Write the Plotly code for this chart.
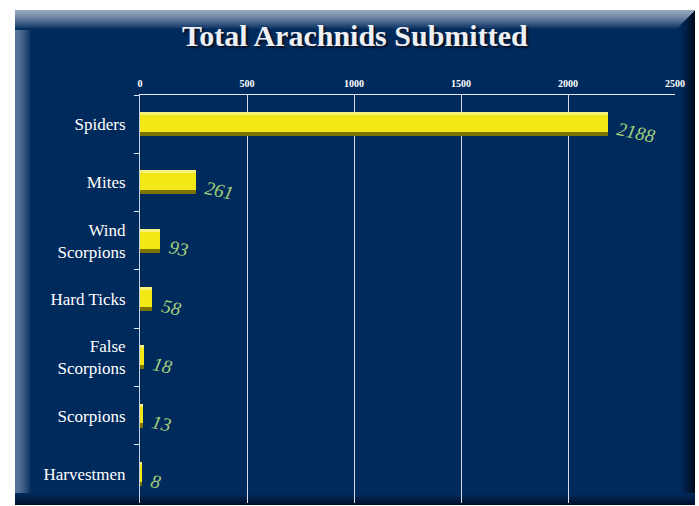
import plotly.graph_objects as go

categories = ["Spiders", "Mites", "Wind<br>Scorpions", "Hard Ticks", "False<br>Scorpions", "Scorpions", "Harvestmen"]
values = [2188, 261, 93, 58, 18, 13, 8]
x_ticks = [0, 500, 1000, 1500, 2000, 2500]
title_text = "Total Arachnids Submitted"

W, H = 699, 506
L, R, T, B = 140, 24, 95, 3
PW, PH = W - L - R, H - T - B


def px(x):
    return (x - L) / PW


def py(y):
    return (H - B - y) / PH


def hexmix(c1, c2, t):
    a = [int(c1[i:i + 2], 16) for i in (1, 3, 5)]
    b = [int(c2[i:i + 2], 16) for i in (1, 3, 5)]
    return "#%02x%02x%02x" % tuple(round(a[k] + (b[k] - a[k]) * t) for k in range(3))


NAVY = "#012a5c"
shapes = []


def rect(x0, y0, x1, y1, color):
    shapes.append(dict(type="rect", xref="paper", yref="paper", x0=px(x0), x1=px(x1),
                       y0=py(y1), y1=py(y0), fillcolor=color, line=dict(width=0), layer="below"))


# main panel
rect(15, 10, 695, 505, NAVY)
# left light band
n = 17
for i in range(n):
    rect(15 + i, 10, 16 + i, 505, hexmix("#587699", NAVY, (i / (n - 1)) ** 1.5))
# top light band
n = 20
for i in range(n):
    rect(15, 10 + i, 695, 11 + i, hexmix("#94a5bd", NAVY, (i / (n - 1)) ** 1.3))
# right dark band
n = 16
for i in range(n):
    rect(679 + i, 10 + max(0, 16 - i), 680 + i, 505, hexmix(NAVY, "#000a1c", (i / (n - 1)) ** 1.2))
# bottom dark band
n = 12
for i in range(n):
    rect(15, 493 + i, 695, 494 + i, hexmix(NAVY, "#00102a", (i / (n - 1))))

fig = go.Figure()
# shadow / bevel body
fig.add_trace(go.Bar(y=categories, x=values, orientation="h", width=0.41,
                     marker=dict(color="#7d7400", line=dict(width=0)), hoverinfo="skip"))
# main yellow face
fig.add_trace(go.Bar(y=categories, x=values, orientation="h", width=0.34, offset=-0.205,
                     marker=dict(color="#f2e816", line=dict(width=0)), hoverinfo="skip"))
# highlight strip
fig.add_trace(go.Bar(y=categories, x=values, orientation="h", width=0.05, offset=-0.205,
                     marker=dict(color="#f8f27a", line=dict(width=0)), hoverinfo="skip"))

annotations = []
for c, v in zip(categories, values):
    annotations.append(dict(x=v, y=c, xref="x", yref="y", text=str(v), showarrow=False,
                            xanchor="left", yanchor="middle", xshift=5, yshift=-8, textangle=12,
                            font=dict(family="Liberation Serif", size=19, color="#a2d07c", style="italic")))

annotations.append(dict(x=px(355), y=py(35), xref="paper", yref="paper", text="<b>" + title_text + "</b>",
                        showarrow=False, xanchor="center", yanchor="middle",
                        font=dict(family="Liberation Serif", size=30, color="#eef0f5",
                                  shadow="2px 2px 2px #0a1020")))

fig.update_layout(
    width=W, height=H,
    margin=dict(l=L, r=R, t=T, b=B),
    paper_bgcolor="white", plot_bgcolor="rgba(0,0,0,0)",
    barmode="overlay", bargap=0, showlegend=False,
    shapes=shapes, annotations=annotations,
    xaxis=dict(side="top", range=[0, 2500], tickvals=x_ticks,
               ticktext=["<b>" + str(t) + "</b>" for t in x_ticks],
               showgrid=True, gridcolor="#d8dde6", gridwidth=1, zeroline=False,
               showline=True, linecolor="#e8ecf2", linewidth=1, ticks="", ticklabelstandoff=3,
               tickfont=dict(family="Liberation Serif", size=10, color="white"), fixedrange=True),
    yaxis=dict(categoryorder="array", categoryarray=categories, autorange="reversed",
               tickson="boundaries", ticks="outside", ticklen=5, tickcolor="#dfe4ec",
               showline=True, linecolor="#c8d0dc", linewidth=1, showgrid=False,
               ticklabelstandoff=10,
               tickfont=dict(family="Liberation Serif", size=17, color="white"), fixedrange=True),
)

fig.write_html("out.html", config={"displayModeBar": False},
               post_script="document.body.style.margin='0';")
